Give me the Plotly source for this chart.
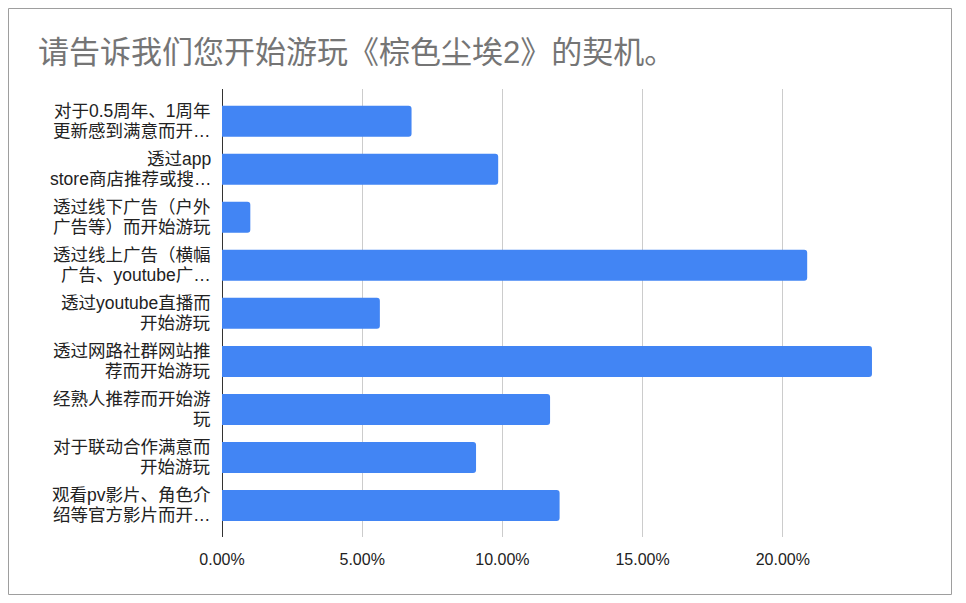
import plotly.graph_objects as go

categories = [
    "对于0.5周年、1周年<br>更新感到满意而开…",
    "透过app<br>store商店推荐或搜…",
    "透过线下广告（户外<br>广告等）而开始游玩",
    "透过线上广告（横幅<br>广告、youtube广…",
    "透过youtube直播而<br>开始游玩",
    "透过网路社群网站推<br>荐而开始游玩",
    "经熟人推荐而开始游<br>玩",
    "对于联动合作满意而<br>开始游玩",
    "观看pv影片、角色介<br>绍等官方影片而开…",
]
values = [0.0676, 0.0985, 0.0101, 0.2087, 0.0563, 0.2318, 0.1170, 0.0906, 0.1204]
x_ticks = [0, 0.05, 0.10, 0.15, 0.20, 0.25]
x_tick_labels = ["0.00%", "5.00%", "10.00%", "15.00%", "20.00%", ""]

W, H = 944, 587
ml, mr, mt, mb = 214, 29, 81, 58
pw, ph = W - ml - mr, H - mt - mb

font_family = "Arial, 'Liberation Sans', 'Noto Sans CJK SC', sans-serif"
label_size = 17.5
line_gap = 20

fig = go.Figure(go.Bar(
    y=list(range(len(categories))),
    x=values,
    orientation="h",
    width=0.646,
    marker=dict(color="#4285F4", cornerradius=3, line=dict(width=0)),
    hoverinfo="skip",
))

annotations = []
for i, lab in enumerate(categories):
    lines = lab.split("<br>")
    n = len(lines)
    for j, ln in enumerate(lines):
        annotations.append(dict(
            xref="paper", yref="y", x=0, y=i,
            text=ln, showarrow=False,
            xanchor="right", yanchor="middle",
            xshift=-9.5, yshift=((n - 1) / 2 - j) * line_gap,
            font=dict(size=label_size, color="#222222", family=font_family),
        ))

fig.update_layout(
    width=W, height=H,
    margin=dict(l=ml, r=mr, t=mt, b=mb, pad=0),
    paper_bgcolor="white", plot_bgcolor="white",
    showlegend=False,
    font=dict(family=font_family, size=16, color="#222222"),
    title=dict(
        text="请告诉我们您开始游玩《棕色尘埃2》的契机。",
        x=30 / W, xanchor="left", xref="container",
        y=1 - 44 / H, yanchor="middle", yref="container",
        font=dict(size=31, color="#757575", family=font_family),
    ),
    xaxis=dict(
        range=[0, 0.25],
        tickvals=x_ticks, ticktext=x_tick_labels,
        showgrid=True, gridcolor="#cccccc", gridwidth=1,
        zeroline=True, zerolinecolor="#333333", zerolinewidth=1,
        ticks="outside", ticklen=8, tickcolor="rgba(0,0,0,0)",
        tickfont=dict(size=16, color="#222222"),
        showline=False,
        fixedrange=True,
    ),
    yaxis=dict(
        range=[8.656, -0.671],
        tickvals=list(range(len(categories))),
        showticklabels=False,
        showgrid=False, zeroline=False, showline=False,
        fixedrange=True,
    ),
    annotations=annotations,
    shapes=[dict(
        type="rect", xref="paper", yref="paper",
        x0=-(ml - 0.5) / pw, x1=1 + (mr - 0.5) / pw,
        y0=-(mb - 0.5) / ph, y1=1 + (mt - 0.5) / ph,
        line=dict(color="#9e9e9e", width=1), fillcolor="rgba(0,0,0,0)",
        layer="above",
    )],
)

fig.write_html("out.html", config={"displayModeBar": False})
